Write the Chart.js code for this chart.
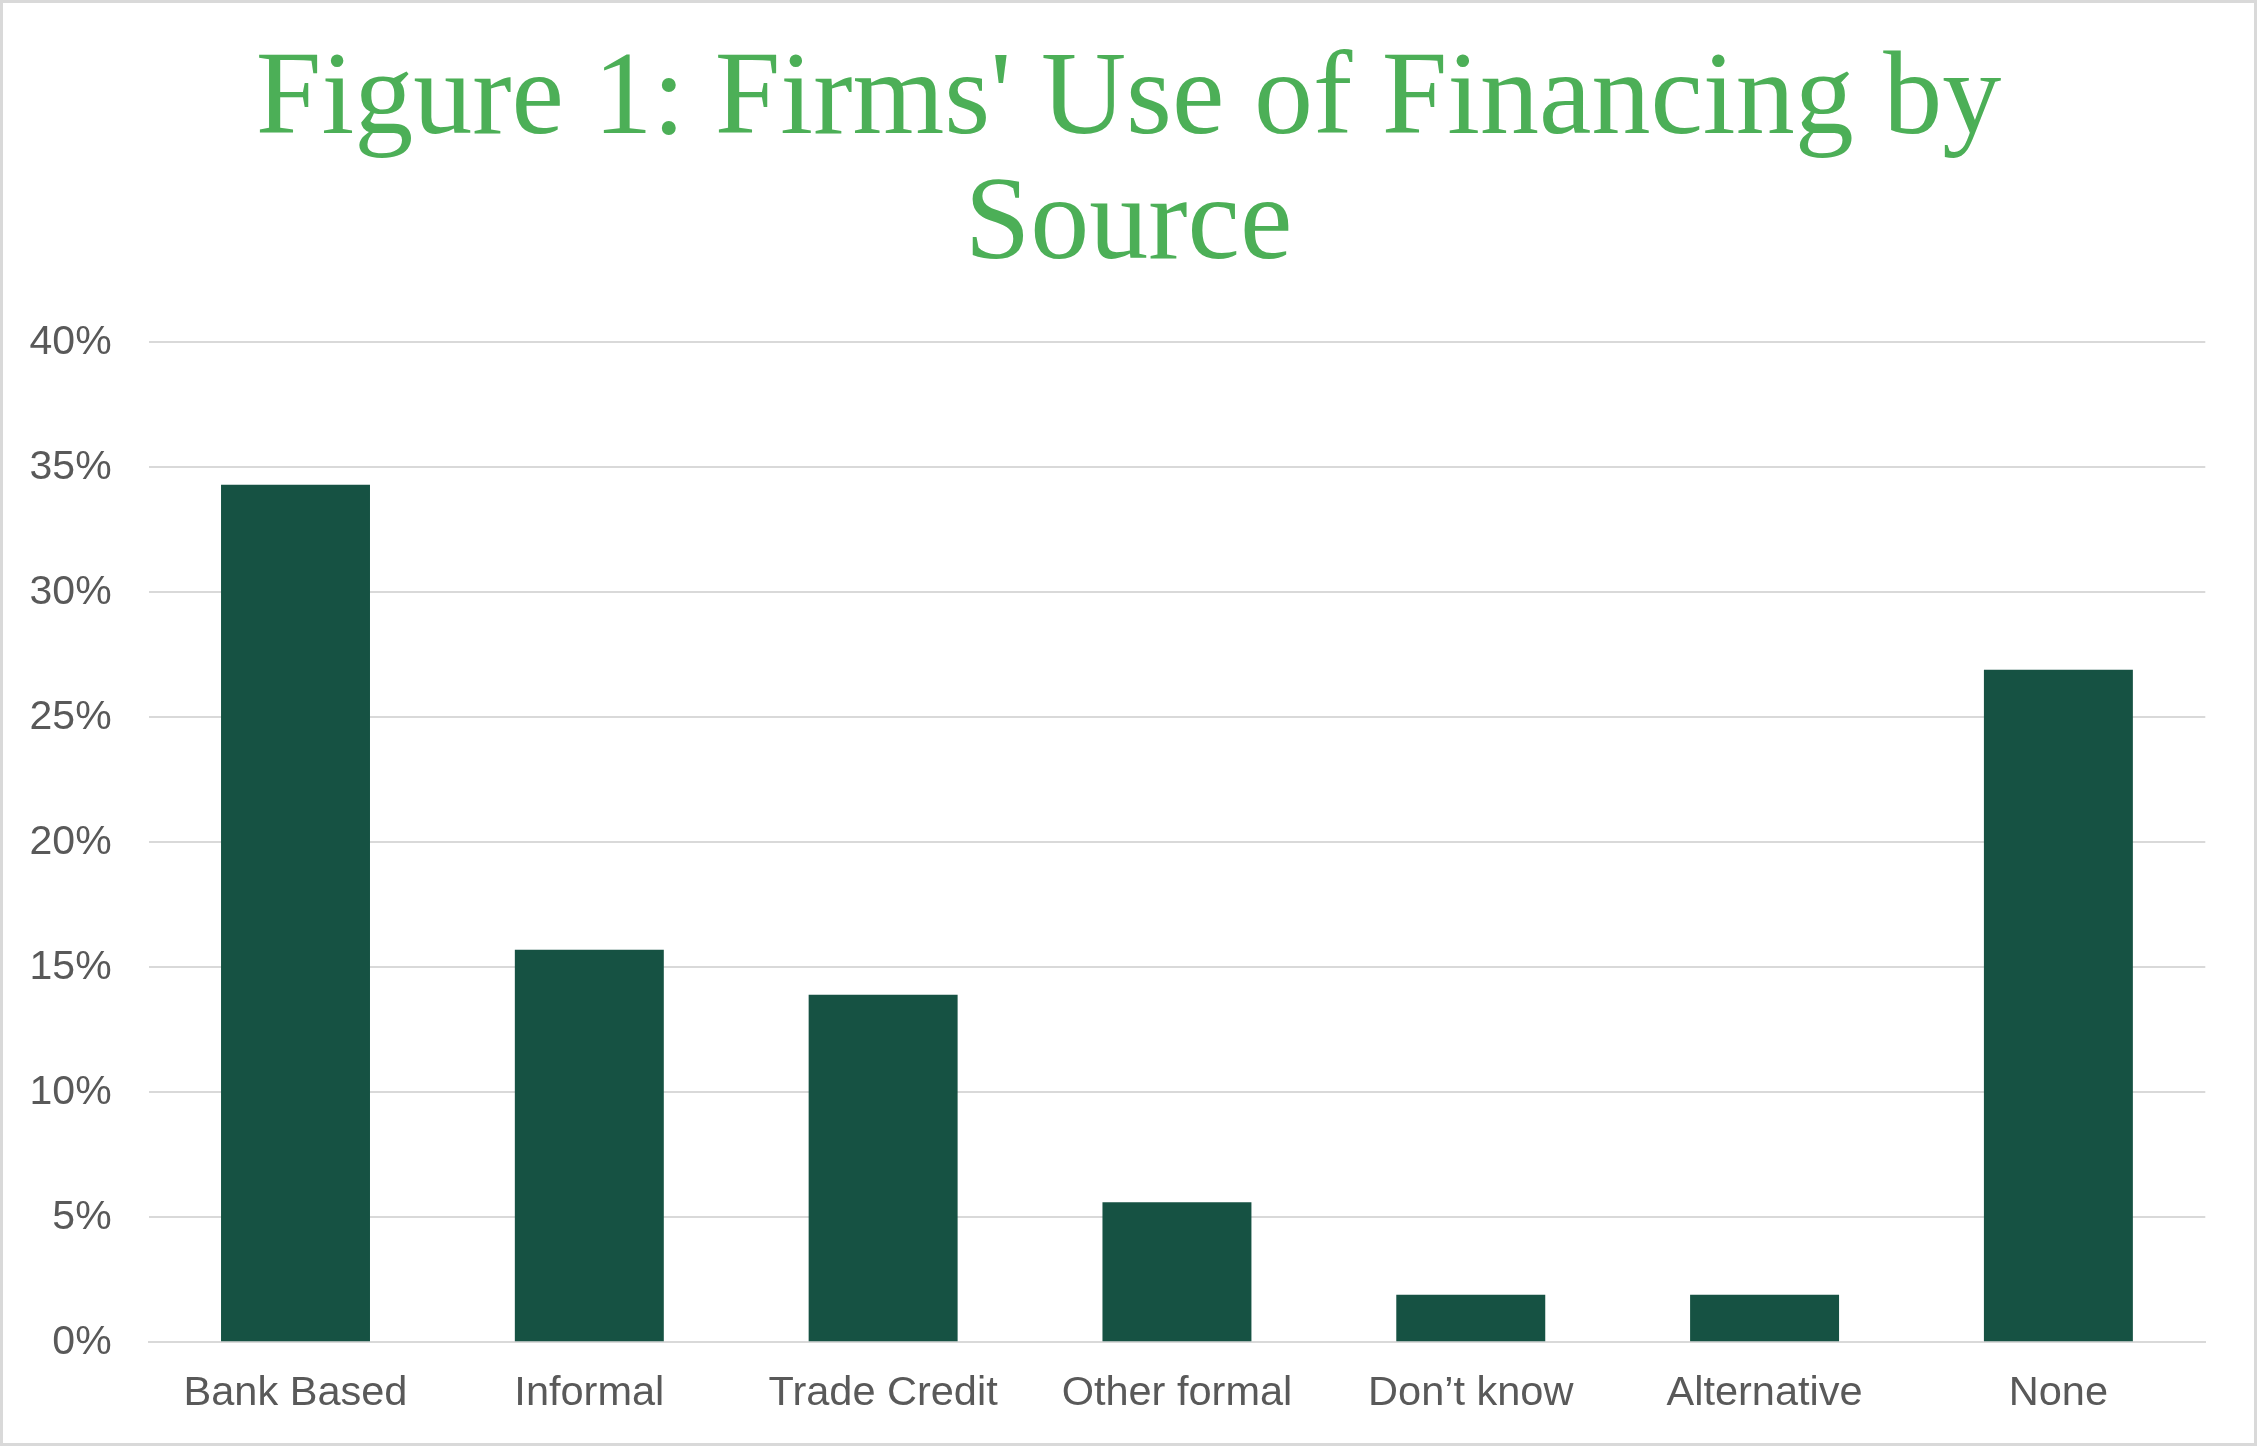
<!DOCTYPE html>
<html>
<head>
<meta charset="utf-8">
<script src="https://cdn.jsdelivr.net/npm/chart.js@4/dist/chart.umd.min.js"></script>
<style>
  html, body { margin: 0; padding: 0; background: #ffffff; }
  #wrap { position: relative; width: 2257px; height: 1446px; overflow: hidden; }
  #c { position: absolute; left: 0; top: 0; }
  #frame { position: absolute; left: 0; top: 0; width: 2257px; height: 1446px; box-sizing: border-box; border: 3px solid #d9d9d9; pointer-events: none; }
</style>
</head>
<body>
<div id="wrap">
  <canvas id="c" width="2257" height="1446"></canvas>
  <div id="frame"></div>
</div>
<script>
const titleLines = ["Figure 1: Firms' Use of Financing by", "Source"];
const categories = ["Bank Based", "Informal", "Trade Credit", "Other formal", "Don\u2019t know", "Alternative", "None"];
const shareOfFirms = [34.3, 15.7, 13.9, 5.6, 1.9, 1.9, 26.9];
const yTickMin = 0;
const yTickMax = 40;
const yTickStep = 5;

const ctx = document.getElementById('c').getContext('2d');
new Chart(ctx, {
  type: 'bar',
  data: {
    labels: categories,
    datasets: [{
      data: shareOfFirms,
      backgroundColor: '#165243',
      borderWidth: 0,
      barPercentage: 0.507,
      categoryPercentage: 1.0
    }]
  },
  options: {
    responsive: false,
    animation: false,
    devicePixelRatio: 1,
    layout: { padding: 0 },
    plugins: {
      legend: { display: false },
      tooltip: { enabled: false },
      title: {
        display: true,
        text: titleLines,
        color: '#4caf57',
        font: { family: "'Liberation Serif', 'DejaVu Serif', serif", size: 118, weight: 'normal', lineHeight: '125px' },
        padding: { top: 40, bottom: 52.3 }
      }
    },
    scales: {
      x: {
        grid: { display: false },
        border: { display: true, color: '#d9d9d9', width: 2 },
        ticks: {
          color: '#595959',
          font: { family: "'Liberation Sans', Arial, sans-serif", size: 41.5 },
          padding: 18,
          maxRotation: 0,
          autoSkip: false
        },
        afterFit: function (scale) { scale.height = 103.7; }
      },
      y: {
        min: yTickMin,
        max: yTickMax,
        grid: { color: '#d9d9d9', lineWidth: 2, drawTicks: false },
        border: { display: false },
        ticks: {
          stepSize: yTickStep,
          color: '#595959',
          font: { family: "'Liberation Sans', Arial, sans-serif", size: 41 },
          padding: 37,
          callback: function (v) { return v + '%'; }
        },
        afterFit: function (scale) { scale.width = 148.6; }
      },
      rightGap: {
        position: 'right',
        min: yTickMin,
        max: yTickMax,
        grid: { display: false, drawTicks: false },
        border: { display: false },
        ticks: { display: false },
        afterFit: function (scale) { scale.width = 51.7; }
      }
    }
  }
});
</script>
</body>
</html>
